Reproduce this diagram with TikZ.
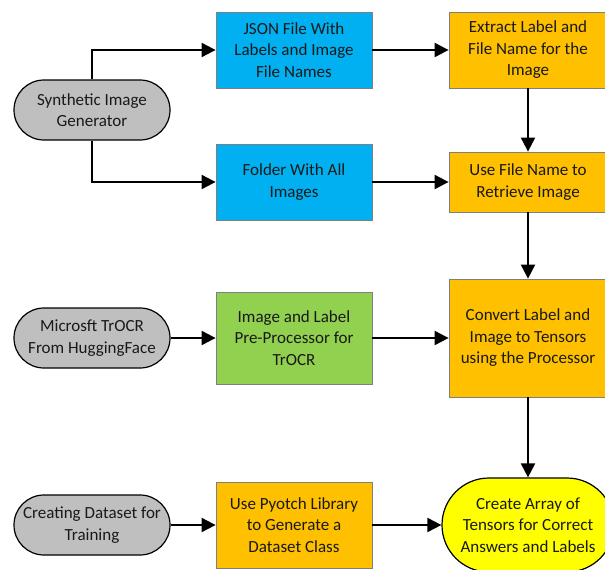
\documentclass[tikz,border=0pt]{standalone}
\usepackage{fontspec}
\setmainfont{Carlito}
\usetikzlibrary{arrows.meta}
\definecolor{boxblue}{HTML}{00B0F0}
\definecolor{boxorange}{HTML}{FFC000}
\definecolor{boxgreen}{HTML}{92D050}
\definecolor{boxgrey}{HTML}{BFBFBF}
\definecolor{boxyellow}{HTML}{FFFF00}
\definecolor{edgegrey}{HTML}{7F7F7F}
\begin{document}
\begin{tikzpicture}[x=1pt,y=-1pt,
  txt/.style={font=\fontsize{17}{21.5}\selectfont, align=center, text=black!90, inner sep=0pt},
  proc/.style={txt, draw=edgegrey, line width=0.8pt, minimum width=156pt},
  term/.style={txt, draw=black, line width=1.2pt, rounded corners=30pt, minimum width=156pt, minimum height=60pt, fill=boxgrey},
  flow/.style={line width=2pt, -{Triangle[length=14pt,width=14pt]}}
]
\useasboundingbox (0,0) rectangle (605,570);
\begin{scope}
\clip (0,0) rectangle (605,570);
% inputs on the left
\node[term] (syn) at (92,110) {Synthetic Image\\Generator};
\node[term] (ms) at (92,338) {Microsft TrOCR\\From HuggingFace};
\node[term] (ds) at (92,525) {Creating Dataset for\\Training};
% middle column
\node[proc, fill=boxblue, minimum height=76pt] (json) at (294,50) {JSON File With\\Labels and Image\\File Names};
\node[proc, fill=boxblue, minimum height=76pt] (folder) at (294,182) {Folder With All\\Images};
\node[proc, fill=boxgreen, minimum height=92pt] (pre) at (294,338) {Image and Label\\Pre-Processor for\\TrOCR};
\node[proc, fill=boxorange, minimum height=86pt] (lib) at (294,525) {Use Pyotch Library\\to Generate a\\Dataset Class};
% right column
\node[proc, fill=boxorange, minimum height=76pt, minimum width=158pt] (extract) at (528,50) {Extract Label and\\File Name for the\\Image};
\node[proc, fill=boxorange, minimum height=60pt, minimum width=158pt] (use) at (528,182) {Use File Name to\\Retrieve Image};
\node[proc, fill=boxorange, minimum height=118pt, minimum width=158pt] (conv) at (528,338) {Convert Label and\\Image to Tensors\\using the Processor};
\node[txt, draw=black, line width=1.2pt, fill=boxyellow, rounded corners=47pt, minimum width=172pt, minimum height=94pt] (arr) at (528,525) {Create Array of\\Tensors for Correct\\Answers and Labels};
\end{scope}
% connectors
\draw[flow] (syn.north) |- (json.west);
\draw[flow] (syn.south) |- (folder.west);
\draw[flow] (json.east) -- (extract.west);
\draw[flow] (folder.east) -- (use.west);
\draw[flow] (extract.south) -- (use.north);
\draw[flow] (use.south) -- (conv.north);
\draw[flow] (ms.east) -- (pre.west);
\draw[flow] (pre.east) -- (conv.west);
\draw[flow] (conv.south) -- (arr.north);
\draw[flow] (ds.east) -- (lib.west);
\draw[flow] (lib.east) -- (arr.west);
\end{tikzpicture}
\end{document}
